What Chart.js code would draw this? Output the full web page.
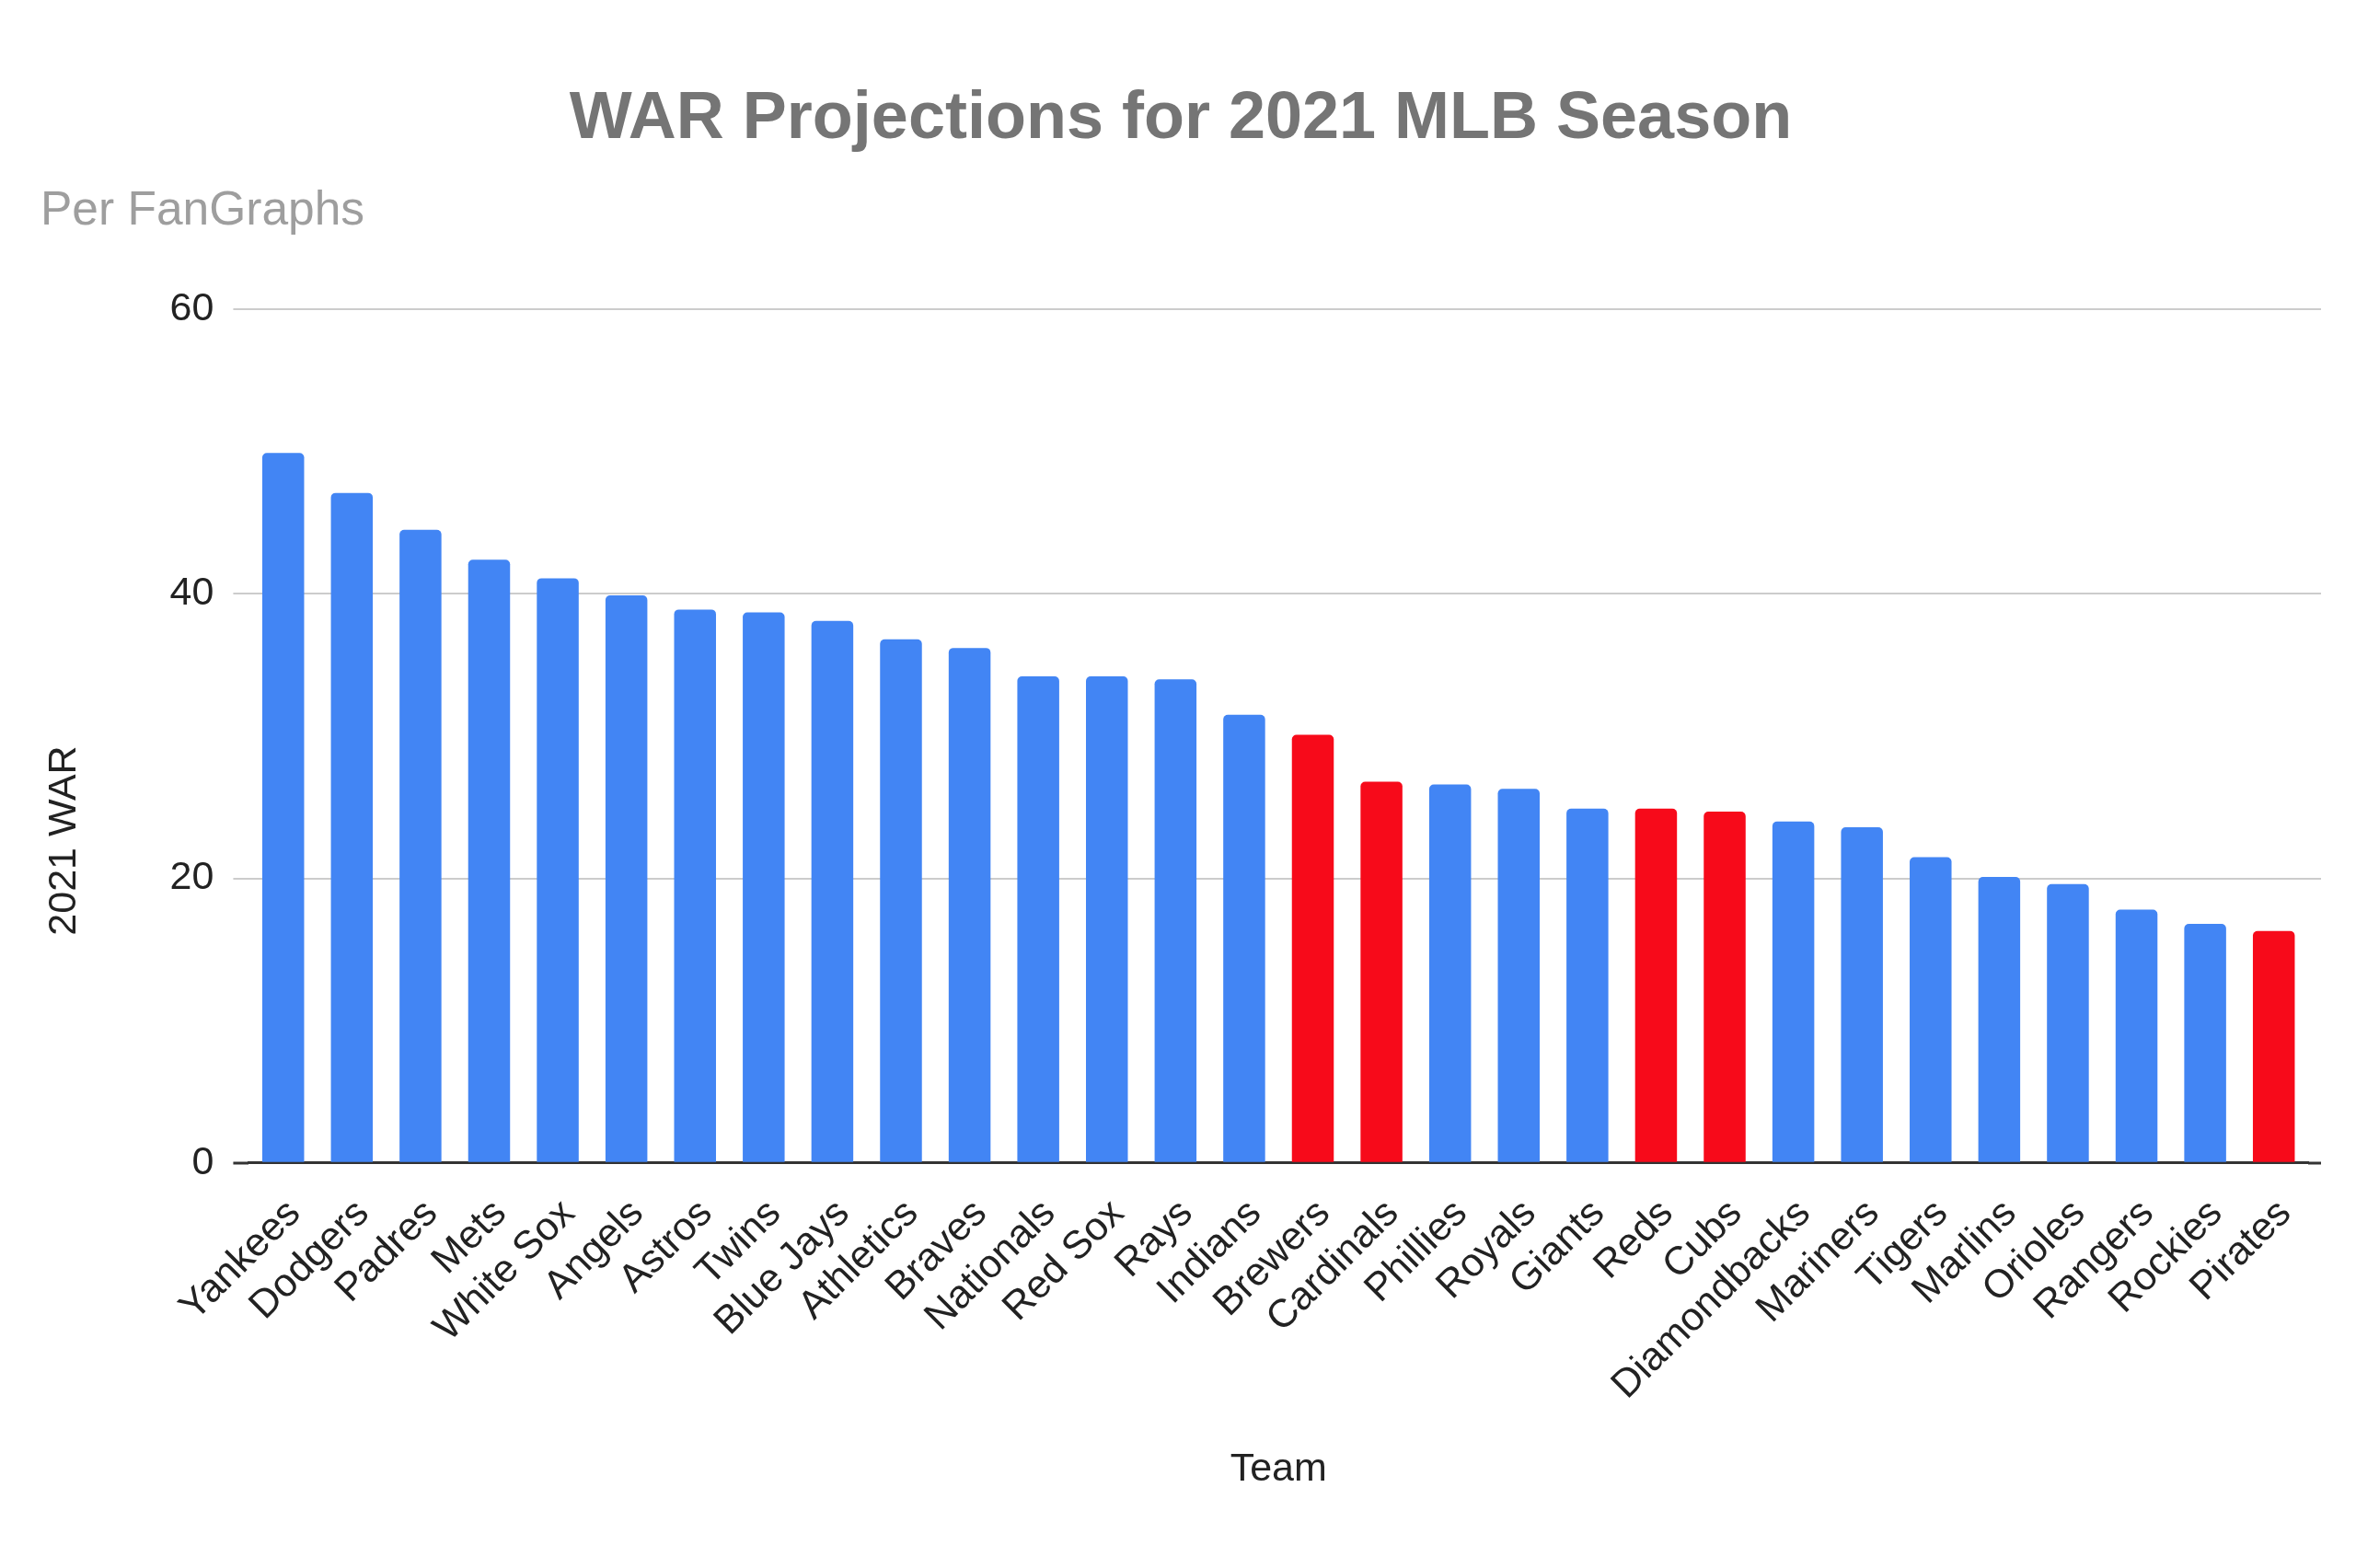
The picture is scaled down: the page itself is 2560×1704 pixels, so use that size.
<!DOCTYPE html>
<html>
<head>
<meta charset="utf-8">
<script src="https://cdn.jsdelivr.net/npm/chart.js@4.4.1/dist/chart.umd.min.js"></script>
<style>
  html, body { margin: 0; padding: 0; background: #ffffff; }
  #wrap { width: 2560px; height: 1704px; position: relative; }
</style>
</head>
<body>
<div id="wrap"><canvas id="c" width="2560" height="1704"></canvas></div>
<script>
const teams = ["Yankees","Dodgers","Padres","Mets","White Sox","Angels","Astros","Twins","Blue Jays","Athletics","Braves","Nationals","Red Sox","Rays","Indians","Brewers","Cardinals","Phillies","Royals","Giants","Reds","Cubs","Diamondbacks","Mariners","Tigers","Marlins","Orioles","Rangers","Rockies","Pirates"];
const war2021 = [49.9,47.1,44.5,42.4,41.1,39.9,38.9,38.7,38.1,36.8,36.2,34.2,34.2,34.0,31.5,30.1,26.8,26.6,26.3,24.9,24.9,24.7,24.0,23.6,21.5,20.1,19.6,17.8,16.8,16.3];
const highlighted = ["Brewers","Cardinals","Reds","Cubs","Pirates"];
const yTicks = [0, 20, 40, 60];

const BLUE = '#4285f4';
const RED = '#f70a1a';
const GRID = '#cccccc';
const AXIS = '#333333';
const barColors = teams.map(t => highlighted.includes(t) ? RED : BLUE);

Chart.defaults.font.family = '"Liberation Sans", Arial, sans-serif';

const tickMarkColor = (ctx) => (ctx.tick && ctx.tick.value === 0) ? AXIS : GRID;
const tickMarkWidth = (ctx) => (ctx.tick && ctx.tick.value === 0) ? 3 : 2;

new Chart(document.getElementById('c'), {
  type: 'bar',
  data: {
    labels: teams,
    datasets: [{
      label: '2021 WAR',
      data: war2021,
      backgroundColor: barColors,
      borderWidth: 0,
      borderRadius: { topLeft: 5, topRight: 5 },
      borderSkipped: 'bottom',
      barPercentage: 0.61,
      categoryPercentage: 1.0
    }]
  },
  options: {
    responsive: false,
    devicePixelRatio: 1,
    animation: false,
    layout: { padding: { left: 44, right: 38, top: 0, bottom: 81 } },
    plugins: {
      legend: { display: false },
      tooltip: { enabled: false },
      title: {
        display: true,
        text: 'WAR Projections for 2021 MLB Season',
        color: '#757575',
        font: { size: 72, weight: 'bold' },
        padding: { top: 87, bottom: 25 }
      },
      subtitle: {
        display: true,
        text: 'Per FanGraphs',
        align: 'start',
        color: '#9e9e9e',
        font: { size: 51.5 },
        padding: { top: 0, bottom: 76 }
      }
    },
    scales: {
      x: {
        grid: { display: false, drawTicks: false },
        border: { display: true, color: AXIS, width: 3 },
        ticks: {
          color: '#222222',
          font: { size: 43 },
          maxRotation: 45,
          minRotation: 45,
          autoSkip: false,
          padding: 30,
          labelOffset: 12
        },
        title: {
          display: true,
          text: 'Team',
          color: '#222222',
          font: { size: 43 },
          padding: { top: 10, bottom: 0 }
        }
      },
      y: {
        min: 0,
        max: 60,
        afterBuildTicks: (scale) => { scale.ticks = yTicks.map(v => ({ value: v })); },
        grid: {
          color: GRID,
          lineWidth: 2,
          drawTicks: true,
          tickLength: 17,
          tickColor: tickMarkColor,
          tickWidth: tickMarkWidth
        },
        border: { display: false },
        ticks: {
          color: '#222222',
          font: { size: 43 },
          padding: 21
        },
        title: {
          display: true,
          text: '2021 WAR' + ' '.repeat(19),
          color: '#222222',
          font: { size: 43 },
          padding: { top: 0, bottom: 68 }
        }
      },
      y2: {
        position: 'right',
        min: 0,
        max: 60,
        afterBuildTicks: (scale) => { scale.ticks = yTicks.map(v => ({ value: v })); },
        grid: {
          drawOnChartArea: false,
          drawTicks: true,
          tickLength: 14,
          color: GRID,
          lineWidth: 2,
          tickColor: tickMarkColor,
          tickWidth: tickMarkWidth
        },
        border: { display: false },
        ticks: { display: false }
      }
    }
  }
});
</script>
</body>
</html>
